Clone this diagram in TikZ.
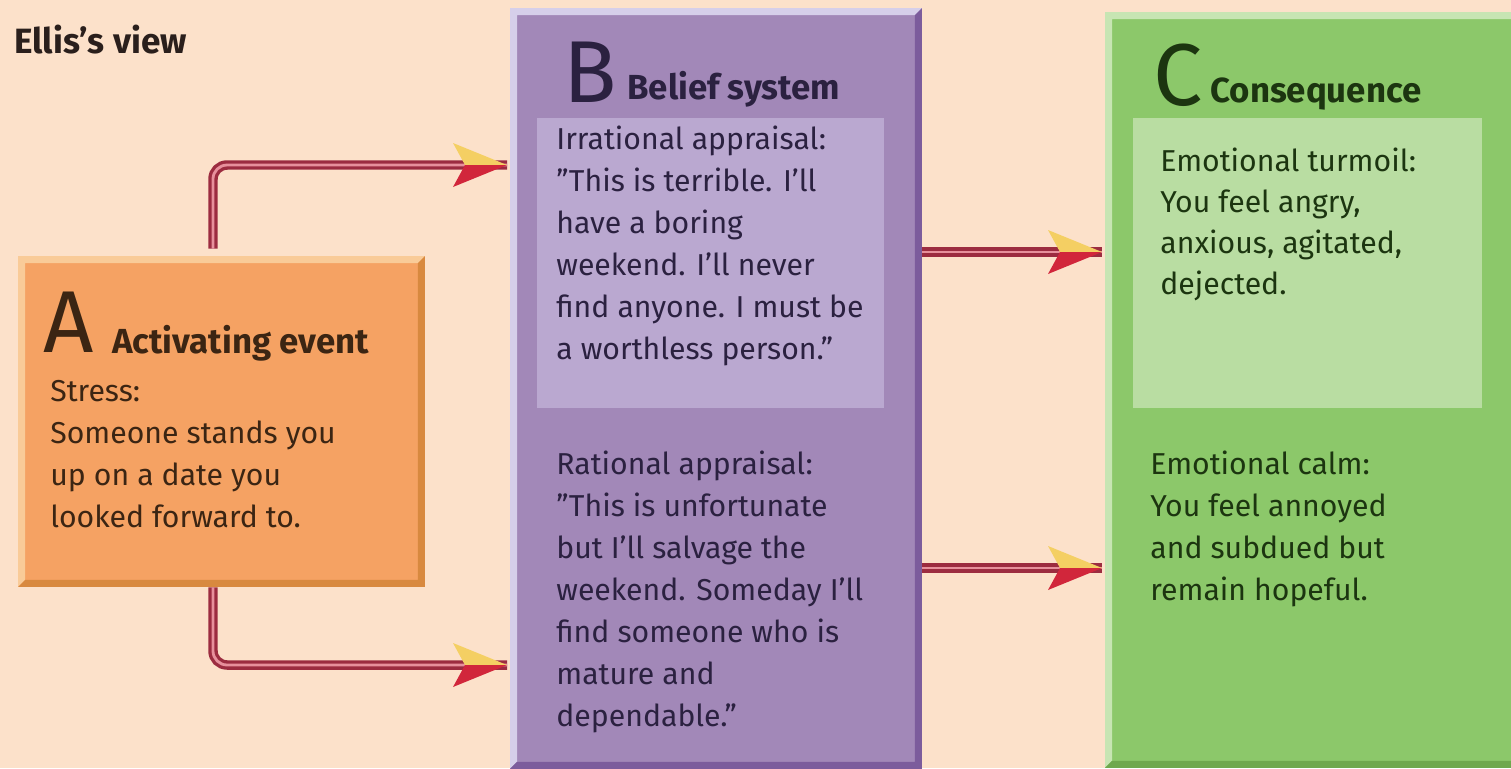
\documentclass[tikz,border=0pt]{standalone}
\usepackage{fontspec}
\setmainfont{Fira Sans}
\usetikzlibrary{positioning}

\definecolor{peach}{HTML}{FCE1CA}
\definecolor{aFill}{HTML}{F5A263}
\definecolor{aLite}{HTML}{F9CB98}
\definecolor{aDark}{HTML}{D8893F}
\definecolor{bFill}{HTML}{A288B8}
\definecolor{bLite}{HTML}{D6CFEA}
\definecolor{bDark}{HTML}{7C5C9C}
\definecolor{bSoft}{HTML}{BAA8D0}
\definecolor{cFill}{HTML}{8CC86A}
\definecolor{cLite}{HTML}{C7E5B3}
\definecolor{cDark}{HTML}{6FA84E}
\definecolor{cSoft}{HTML}{B9DDA2}
\definecolor{aInk}{HTML}{3B2513}
\definecolor{bInk}{HTML}{2B2140}
\definecolor{cInk}{HTML}{1C3510}
\definecolor{ink}{HTML}{2A1F1C}
\definecolor{wire}{HTML}{9C2C40}
\definecolor{wirePink}{HTML}{E7909C}
\definecolor{tipYel}{HTML}{F4CF63}
\definecolor{tipRed}{HTML}{D1263B}

\tikzset{
  panel/.style n args={3}{fill=#1, draw=none, inner sep=0pt, path picture={
    \fill[#2] (path picture bounding box.south west) |- (path picture bounding box.north east)
      -- ++(-4pt,-4pt) -| ([shift={(4pt,4pt)}]path picture bounding box.south west) -- cycle;
    \fill[#3] (path picture bounding box.north east) |- (path picture bounding box.south west)
      -- ++(4pt,4pt) -| ([shift={(-4pt,-4pt)}]path picture bounding box.north east) -- cycle;}},
  big/.style={font=\fontsize{50}{50}\selectfont, inner sep=0pt, anchor=base west},
  heading/.style={font=\bfseries\fontsize{19.8}{22}\selectfont, inner sep=0pt, anchor=base west},
  body/.style={font=\fontsize{17.2}{23.9}\selectfont, align=left, inner sep=0pt, anchor=north west},
  link/.style={draw=wire, double=wirePink, double distance=1.6pt, line width=1.9pt, rounded corners=8pt},
  yrtip/.pic={
    \fill[tipYel] (0,0) -- (-54,-22) -- (-42,0) -- cycle;
    \fill[tipRed] (0,0) -- (-54,22) -- (-42,0) -- cycle;}
}

\begin{document}
\begin{tikzpicture}[x=0.02cm, y=-0.02cm]
\fill[peach] (0,0) rectangle (1511,768);
\useasboundingbox (0,0) rectangle (1511,768);

% the three panels
\node (boxA) [panel={aFill}{aLite}{aDark}, minimum width=8.14cm, minimum height=6.62cm] at (221.5,421.5) {};
\node (boxB) [panel={bFill}{bLite}{bDark}, minimum width=8.24cm, minimum height=15.22cm] at (716,388.5) {};
\node (boxC) [panel={cFill}{cLite}{cDark}, minimum width=8.4cm, minimum height=15.12cm] at (1315,390) {};
\node (softB) [fill=bSoft, minimum width=6.94cm, minimum height=5.8cm] at (710.5,263) {};
\node (softC) [fill=cSoft, minimum width=6.98cm, minimum height=5.8cm] at (1307.5,263) {};

\node (ellis) [heading, font=\bfseries\fontsize{20}{22}\selectfont, text=ink] at (14,53) {Ellis’s view};

% A
\node (letA) [big, text=aInk] at (43,352) {A};
\node (headA) [heading, text=aInk] at (112,353) {Activating event};
\node (textA) [body, text=aInk] at (50,380) {Stress:\\Someone stands you\\up on a date you\\looked forward to.};

% B
\node (letB) [big, text=bInk] at (563,102) {B};
\node (headB) [heading, text=bInk] at (627,99) {Belief system};
\node (irrat) [body, text=bInk] at (556,126) {Irrational appraisal:\\”This is terrible. I’ll\\have a boring\\weekend. I’ll never\\find anyone. I must be\\a worthless person.”};
\node (rat) [body, text=bInk] at (556,451) {Rational appraisal:\\”This is unfortunate\\but I’ll salvage the\\weekend. Someday I’ll\\find someone who is\\mature and\\dependable.”};

% C
\node (letC) [big, text=cInk] at (1153,105) {C};
\node (headC) [heading, text=cInk] at (1210,102) {Consequence};
\node (turmoil) [body, font=\fontsize{17.2}{23.3}\selectfont, text=cInk] at (1160,148) {Emotional turmoil:\\You feel angry,\\anxious, agitated,\\dejected.};
\node (calm) [body, text=cInk] at (1150,451) {Emotional calm:\\You feel annoyed\\and subdued but\\remain hopeful.};

% arrows
\coordinate (tipB1) at (507,165);
\coordinate (tipB2) at (507,665);
\coordinate (tipC1) at (1102,252);
\coordinate (tipC2) at (1102,568);
\draw [link] ([xshift=-0.17cm,yshift=0.14cm]boxA.north) |- (tipB1);
\draw [link] ([xshift=-0.17cm]boxA.south) |- (tipB2);
\draw [link] (boxB.east |- tipC1) -- (tipC1);
\draw [link] (boxB.east |- tipC2) -- (tipC2);
\foreach \t in {tipB1, tipB2, tipC1, tipC2}
  { \pic at (\t) {yrtip} ; }

\end{tikzpicture}
\end{document}
